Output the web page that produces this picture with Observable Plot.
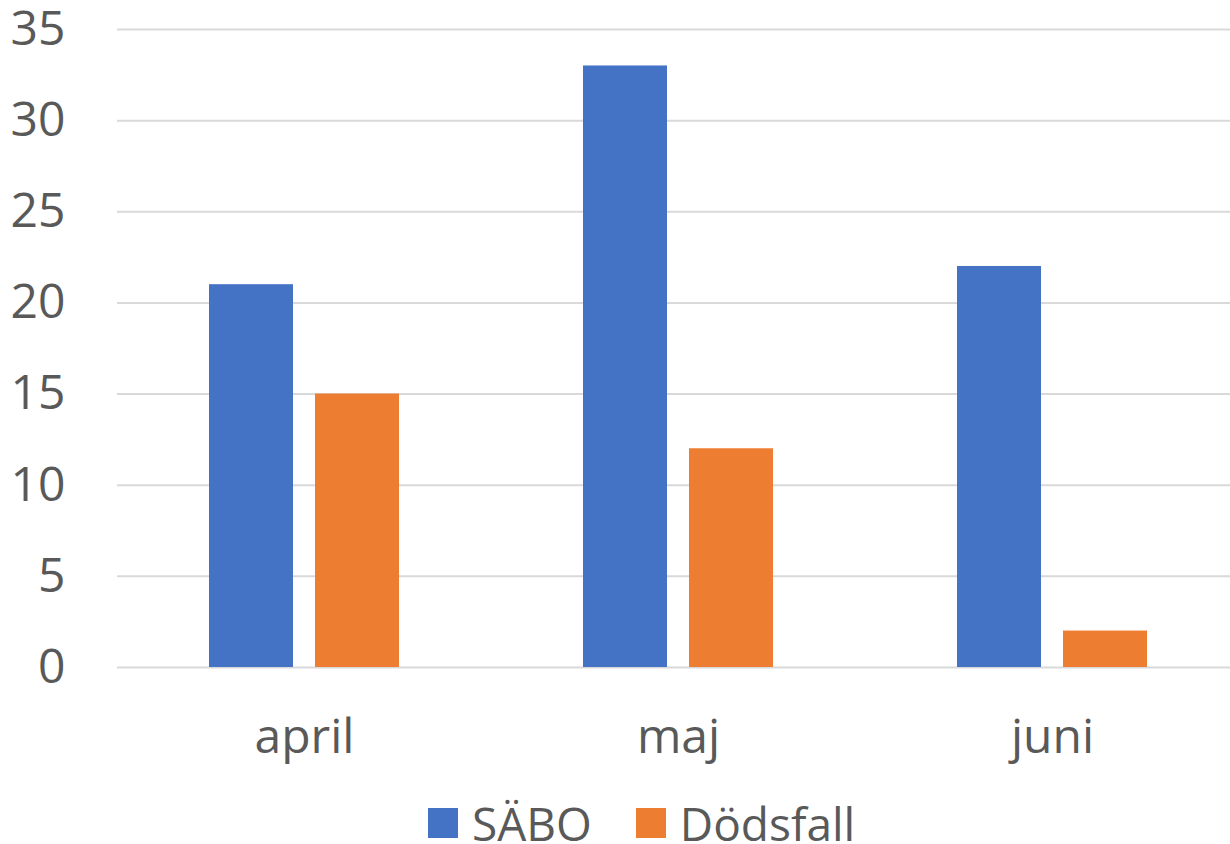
<!DOCTYPE html>
<html>
<head>
<meta charset="utf-8">
<script src="https://cdn.jsdelivr.net/npm/d3@7"></script>
<script src="https://cdn.jsdelivr.net/npm/@observablehq/plot@0.6"></script>
<style>
  html, body { margin: 0; padding: 0; background: #fff; overflow: hidden; }
  #chart svg { display: block; overflow: visible; }
  .legend { display: flex; align-items: center; height: 66px; padding-left: 428px;
            font-family: "Open Sans", sans-serif; font-size: 46px; line-height: 1; color: #595959; }
  .legend .item { display: flex; align-items: center; margin-right: 44px; }
  .legend .sw { width: 30px; height: 30px; margin-right: 14px; }
</style>
</head>
<body>
<div id="chart"></div>
<div class="legend" id="legend"></div>
<script>
const months = ["april", "maj", "juni"];
const sabo = [21, 33, 22];
const dodsfall = [15, 12, 2];
const seriesNames = ["SÄBO", "Dödsfall"];
const seriesColors = ["#4472C4", "#ED7D31"];
const yTicks = [0, 5, 10, 15, 20, 25, 30, 35];

const data = months.map((m, i) => ({month: m, sabo: sabo[i], dodsfall: dodsfall[i]}));

const chart = Plot.plot({
  width: 1230,
  height: 790,
  marginTop: 29,
  marginBottom: 123,
  marginLeft: 117,
  marginRight: -9,
  style: {fontFamily: "Open Sans, sans-serif", fontSize: "48px", color: "#595959", background: "white"},
  x: {domain: months, paddingInner: 0.492, paddingOuter: 0.246, round: false, label: null},
  y: {domain: [0, 35], label: null},
  marks: [
    Plot.gridY(yTicks, {stroke: "#d9d9d9", strokeOpacity: 1, strokeWidth: 2}),
    Plot.barY(data, {x: "month", y: "sabo", fill: seriesColors[0], insetRight: 106}),
    Plot.barY(data, {x: "month", y: "dodsfall", fill: seriesColors[1], insetLeft: 106}),
    Plot.axisX({tickSize: 0, tickPadding: 51, fontSize: 48, label: null}),
    Plot.axisY(yTicks, {tickSize: 0, tickPadding: 52, fontSize: 48, label: null})
  ]
});
document.getElementById("chart").appendChild(chart);

const legend = document.getElementById("legend");
seriesNames.forEach((name, i) => {
  const item = document.createElement("div");
  item.className = "item";
  const sw = document.createElement("div");
  sw.className = "sw";
  sw.style.background = seriesColors[i];
  const label = document.createElement("span");
  label.textContent = name;
  item.appendChild(sw);
  item.appendChild(label);
  legend.appendChild(item);
});
</script>
</body>
</html>
